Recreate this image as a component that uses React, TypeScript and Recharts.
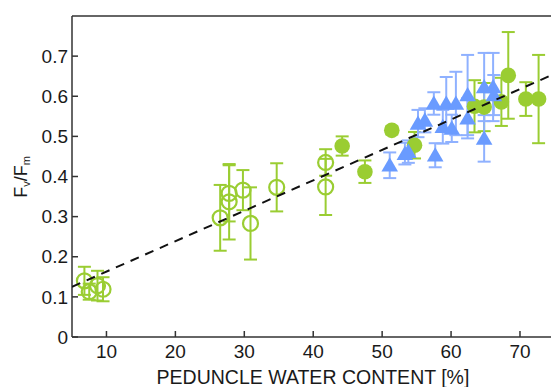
import { ScatterChart, Scatter, XAxis, YAxis, ErrorBar, ReferenceLine, Label } from "recharts";

const GREEN = "#9acd32";
const BLUE = "#6a9bff";
const BLUE_ERR = "#8fb1ff";
const FONT = "'Liberation Sans', Arial, sans-serif";

// open green circles
const openX = [6.8, 7.5, 8.7, 9.5, 26.5, 27.8, 27.8, 29.8, 30.9, 34.7, 41.8, 41.8];
const openY = [0.14, 0.113, 0.128, 0.119, 0.297, 0.337, 0.358, 0.366, 0.283, 0.373, 0.435, 0.374];
const openErr = [0.035, 0.02, 0.037, 0.03, 0.082, 0.094, 0.07, 0.05, 0.09, 0.06, 0.033, 0.07];

// filled green circles
const fillX = [44.2, 47.5, 51.4, 54.7, 63.4, 64.8, 67.3, 68.3, 70.85, 72.7];
const fillY = [0.476, 0.412, 0.515, 0.478, 0.575, 0.573, 0.586, 0.652, 0.593, 0.593];
const fillErr = [0.024, 0.028, 0.01, 0.033, 0.065, 0.06, 0.06, 0.108, 0.042, 0.11];

// blue triangles
const triX = [51.1, 53.3, 53.8, 55.2, 56.2, 57.5, 57.7, 58.8, 59.3, 60.1, 60.7, 62.4, 62.4, 64.8, 64.8, 66.1, 66.2];
const triY = [0.428, 0.457, 0.462, 0.532, 0.54, 0.582, 0.453, 0.524, 0.582, 0.52, 0.582, 0.603, 0.545, 0.623, 0.495, 0.623, 0.603];
const triErr = [0.032, 0.027, 0.028, 0.034, 0.03, 0.028, 0.03, 0.042, 0.066, 0.034, 0.079, 0.1, 0.05, 0.085, 0.058, 0.085, 0.05];

// regression line
const fitX = [5, 74.5];
const fitY = [0.125, 0.652];

const xTicks = [10, 20, 30, 40, 50, 60, 70];
const yTicks = [0, 0.1, 0.2, 0.3, 0.4, 0.5, 0.6, 0.7];

const rows = (xs: number[], ys: number[], es?: number[]) =>
  xs.map((x, i) => ({ x, y: ys[i], err: es ? es[i] : 0 }));

const OpenCircle = (p: any) => (
  <circle cx={p.cx} cy={p.cy} r={7.5} fill="none" stroke={GREEN} strokeWidth={2.2} />
);
const FilledCircle = (p: any) => <circle cx={p.cx} cy={p.cy} r={7.8} fill={GREEN} />;
const Triangle = (p: any) => (
  <polygon
    points={`${p.cx},${p.cy - 8} ${p.cx - 8.3},${p.cy + 6.3} ${p.cx + 8.3},${p.cy + 6.3}`}
    fill={BLUE}
  />
);

const tickStyle = { fontSize: 19, fill: "#1a1a1a", fontFamily: FONT };

export default function App() {
  return (
    <div style={{ position: "absolute", left: 0, top: 0, width: 551, height: 387 }}>
      <ScatterChart width={551} height={387} margin={{ top: 16, right: 0, bottom: 0, left: 0 }}>
        <XAxis
          type="number"
          dataKey="x"
          domain={[5, 74.5]}
          ticks={xTicks}
          height={50}
          tick={tickStyle}
          tickSize={-6}
          tickMargin={14}
          stroke="#333"
          strokeWidth={1.5}
          allowDataOverflow
        >
          <Label
            content={() => (
              <text x={313} y={384} textAnchor="middle" fontSize={19.5} fontFamily={FONT} fill="#1a1a1a">
                PEDUNCLE WATER CONTENT [%]
              </text>
            )}
          />
        </XAxis>
        <YAxis
          type="number"
          dataKey="y"
          domain={[0, 0.8]}
          ticks={yTicks}
          width={72}
          tick={tickStyle}
          tickSize={-6}
          tickMargin={10}
          tickFormatter={(v: number) => (v === 0 ? "0" : v.toFixed(1))}
          stroke="#333"
          strokeWidth={1.5}
          allowDataOverflow
        >
          <Label
            content={() => (
              <text
                x={27}
                y={177}
                transform="rotate(-90 27 177)"
                textAnchor="middle"
                fontSize={18}
                fontFamily={FONT}
                fill="#1a1a1a"
              >
                F<tspan fontSize={11} dy={3}>v</tspan>
                <tspan dy={-3}>/F</tspan>
                <tspan fontSize={11} dy={3}>m</tspan>
              </text>
            )}
          />
        </YAxis>
        <ReferenceLine y={0.8} stroke="#333" strokeWidth={1.5} />
        <Scatter data={rows(openX, openY, openErr)} shape={OpenCircle} isAnimationActive={false}>
          <ErrorBar dataKey="err" direction="y" width={6.5} stroke={GREEN} strokeWidth={2} />
        </Scatter>
        <Scatter data={rows(fillX, fillY, fillErr)} shape={FilledCircle} isAnimationActive={false}>
          <ErrorBar dataKey="err" direction="y" width={6.5} stroke={GREEN} strokeWidth={2} />
        </Scatter>
        <Scatter data={rows(triX, triY, triErr)} shape={Triangle} isAnimationActive={false}>
          <ErrorBar dataKey="err" direction="y" width={6.5} stroke={BLUE_ERR} strokeWidth={2} />
        </Scatter>
        <Scatter
          data={rows(fitX, fitY)}
          shape={() => null}
          line={{ stroke: "#111", strokeWidth: 2, strokeDasharray: "9 7" }}
          isAnimationActive={false}
        />
      </ScatterChart>
    </div>
  );
}
